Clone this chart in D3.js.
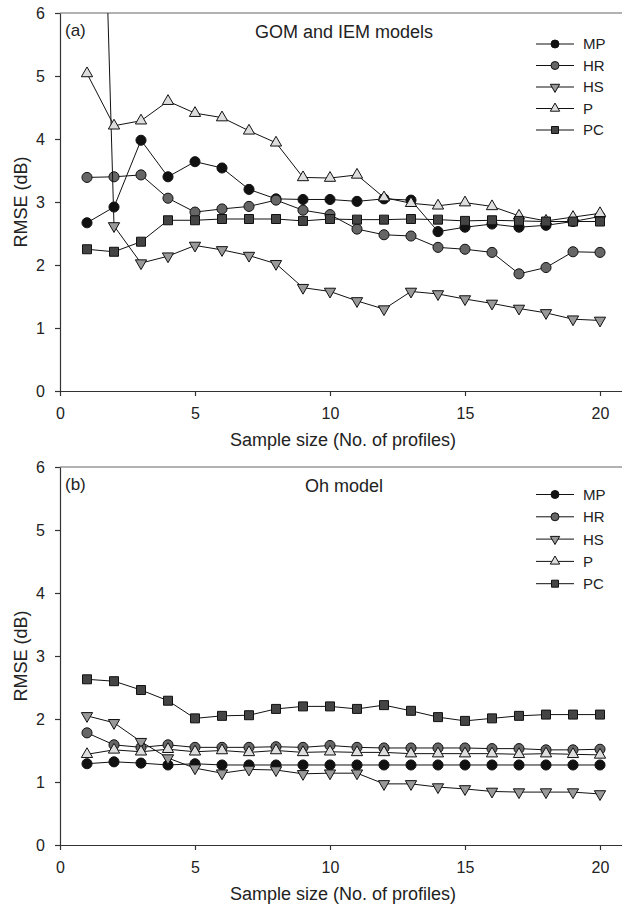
<!DOCTYPE html>
<html>
<head>
<meta charset="utf-8">
<script src="https://cdn.jsdelivr.net/npm/d3@7"></script>
<style>
body { margin: 0; background: #fff; }
svg text { font-family: "Liberation Sans", Arial, sans-serif; fill: #222; }
</style>
</head>
<body>
<svg width="622" height="907"></svg>
<script>
// sample sizes (x) and tick labels
var sampleSize = [1, 2, 3, 4, 5, 6, 7, 8, 9, 10, 11, 12, 13, 14, 15, 16, 17, 18, 19, 20];
var xTicks = [0, 5, 10, 15, 20];
var yTicks = [0, 1, 2, 3, 4, 5, 6];
var seriesNames = ["MP", "HR", "HS", "P", "PC"];

// (a) GOM and IEM models
var gomMP = [2.67, 2.92, 3.98, 3.40, 3.64, 3.54, 3.20, 3.05, 3.04, 3.04, 3.01, 3.05, 3.03, 2.53, 2.60, 2.65, 2.60, 2.63, 2.69, 2.77];
var gomHR = [3.39, 3.40, 3.43, 3.06, 2.84, 2.89, 2.93, 3.03, 2.87, 2.80, 2.57, 2.48, 2.46, 2.28, 2.25, 2.20, 1.86, 1.96, 2.21, 2.20];
var gomHS = [17.5, 2.62, 2.03, 2.14, 2.31, 2.24, 2.15, 2.02, 1.64, 1.58, 1.43, 1.30, 1.58, 1.54, 1.46, 1.39, 1.31, 1.24, 1.14, 1.12];
var gomP  = [5.04, 4.21, 4.29, 4.60, 4.41, 4.34, 4.13, 3.94, 3.39, 3.38, 3.43, 3.07, 2.98, 2.94, 2.99, 2.93, 2.78, 2.70, 2.76, 2.82];
var gomPC = [2.25, 2.21, 2.37, 2.71, 2.71, 2.73, 2.73, 2.73, 2.70, 2.73, 2.72, 2.72, 2.73, 2.72, 2.70, 2.71, 2.70, 2.69, 2.69, 2.69];

// (b) Oh model
var ohMP = [1.29, 1.32, 1.30, 1.27, 1.29, 1.27, 1.27, 1.27, 1.27, 1.27, 1.27, 1.27, 1.27, 1.27, 1.27, 1.27, 1.27, 1.27, 1.27, 1.27];
var ohHR = [1.78, 1.59, 1.55, 1.59, 1.55, 1.55, 1.55, 1.56, 1.55, 1.58, 1.55, 1.54, 1.54, 1.54, 1.54, 1.53, 1.53, 1.51, 1.51, 1.52];
var ohHS = [2.05, 1.94, 1.64, 1.38, 1.22, 1.14, 1.20, 1.19, 1.13, 1.14, 1.14, 0.97, 0.97, 0.92, 0.89, 0.85, 0.84, 0.84, 0.84, 0.81];
var ohP  = [1.44, 1.51, 1.48, 1.52, 1.48, 1.50, 1.47, 1.50, 1.47, 1.48, 1.47, 1.47, 1.45, 1.45, 1.45, 1.45, 1.44, 1.45, 1.44, 1.43];
var ohPC = [2.63, 2.60, 2.46, 2.29, 2.01, 2.05, 2.06, 2.16, 2.20, 2.20, 2.16, 2.22, 2.13, 2.03, 1.97, 2.01, 2.05, 2.07, 2.07, 2.07];

var marks = {
  MP: { fill: "#111", type: d3.symbolCircle, size: 80, legendSize: 50, rotate: 0 },
  HR: { fill: "#666", type: d3.symbolCircle, size: 80, legendSize: 50, rotate: 0 },
  HS: { fill: "#999", type: d3.symbolTriangle, size: 55, legendSize: 38, rotate: 180 },
  P:  { fill: "#ddd", type: d3.symbolTriangle, size: 55, legendSize: 38, rotate: 0 },
  PC: { fill: "#444", type: d3.symbolSquare, size: 81, legendSize: 49, rotate: 0 }
};

var svg = d3.select("svg");
var plotH = 378;

var x = d3.scaleLinear().domain([0, 20.8]).range([60, 621.6]);

function drawPanel(top, label, title, series, legendTop, legendStep, id) {
  var y = d3.scaleLinear().domain([0, 6]).range([top + plotH, top]);
  var g = svg.append("g");

  g.append("clipPath").attr("id", id)
    .append("rect")
    .attr("x", x(0)).attr("y", top)
    .attr("width", x.range()[1] - x(0)).attr("height", plotH);

  // top frame line
  g.append("line")
    .attr("x1", x(0)).attr("x2", 622)
    .attr("y1", top).attr("y2", top)
    .attr("stroke", "#666").attr("stroke-width", 1.2);

  var xAxis = g.append("g")
    .attr("transform", "translate(0," + (top + plotH) + ")")
    .call(d3.axisBottom(x).tickValues(xTicks).tickFormat(d3.format("d"))
      .tickSize(5).tickPadding(12).tickSizeOuter(0));
  var yAxis = g.append("g")
    .attr("transform", "translate(" + x(0) + ",0)")
    .call(d3.axisLeft(y).tickValues(yTicks).tickFormat(d3.format("d"))
      .tickSize(5).tickPadding(10).tickSizeOuter(0));
  [xAxis, yAxis].forEach(function(a) {
    a.attr("font-size", 16).attr("font-family", null);
    a.selectAll("path, line").attr("stroke", "#333").attr("stroke-width", 1.2);
  });

  g.append("text")
    .attr("transform", "translate(27," + (top + plotH / 2) + ") rotate(-90)")
    .attr("text-anchor", "middle")
    .attr("font-size", 18)
    .text("RMSE (dB)");

  g.append("text")
    .attr("x", 343).attr("y", top + plotH + 55)
    .attr("text-anchor", "middle")
    .attr("font-size", 18)
    .text("Sample size (No. of profiles)");

  g.append("text").attr("x", 65).attr("y", top + 23)
    .attr("font-size", 17).text(label);
  g.append("text").attr("x", 344).attr("y", top + 25)
    .attr("text-anchor", "middle").attr("font-size", 18).text(title);

  var line = d3.line()
    .x(function(d, i) { return x(sampleSize[i]); })
    .y(function(d) { return y(d); });

  var plot = g.append("g").attr("clip-path", "url(#" + id + ")");

  seriesNames.forEach(function(name) {
    var m = marks[name];
    var vals = series[name];
    plot.append("path")
      .datum(vals)
      .attr("fill", "none")
      .attr("stroke", "#111")
      .attr("stroke-width", 1)
      .attr("d", line);
    plot.selectAll(".pt-" + name)
      .data(vals)
      .enter().append("path")
      .attr("class", "pt-" + name)
      .attr("d", d3.symbol().type(m.type).size(m.size))
      .attr("transform", function(d, i) {
        return "translate(" + x(sampleSize[i]) + "," + y(d) + ") rotate(" + m.rotate + ")";
      })
      .attr("fill", m.fill)
      .attr("stroke", "#111")
      .attr("stroke-width", 1);
  });

  // legend
  var leg = g.append("g").selectAll("g")
    .data(seriesNames)
    .enter().append("g")
    .attr("transform", function(d, i) { return "translate(0," + (legendTop + i * legendStep) + ")"; });
  leg.append("line")
    .attr("x1", 536).attr("x2", 574)
    .attr("stroke", "#111").attr("stroke-width", 1);
  leg.append("path")
    .attr("d", function(d) { return d3.symbol().type(marks[d].type).size(marks[d].legendSize)(); })
    .attr("transform", function(d) { return "translate(555,0) rotate(" + marks[d].rotate + ")"; })
    .attr("fill", function(d) { return marks[d].fill; })
    .attr("stroke", "#111").attr("stroke-width", 1);
  leg.append("text")
    .attr("x", 583).attr("dy", "0.36em")
    .attr("font-size", 15)
    .text(function(d) { return d; });
}

drawPanel(13, "(a)", "GOM and IEM models",
  { MP: gomMP, HR: gomHR, HS: gomHS, P: gomP, PC: gomPC }, 44, 21.5, "clipA");
drawPanel(467, "(b)", "Oh model",
  { MP: ohMP, HR: ohHR, HS: ohHS, P: ohP, PC: ohPC }, 494.5, 22.3, "clipB");
</script>
</body>
</html>
